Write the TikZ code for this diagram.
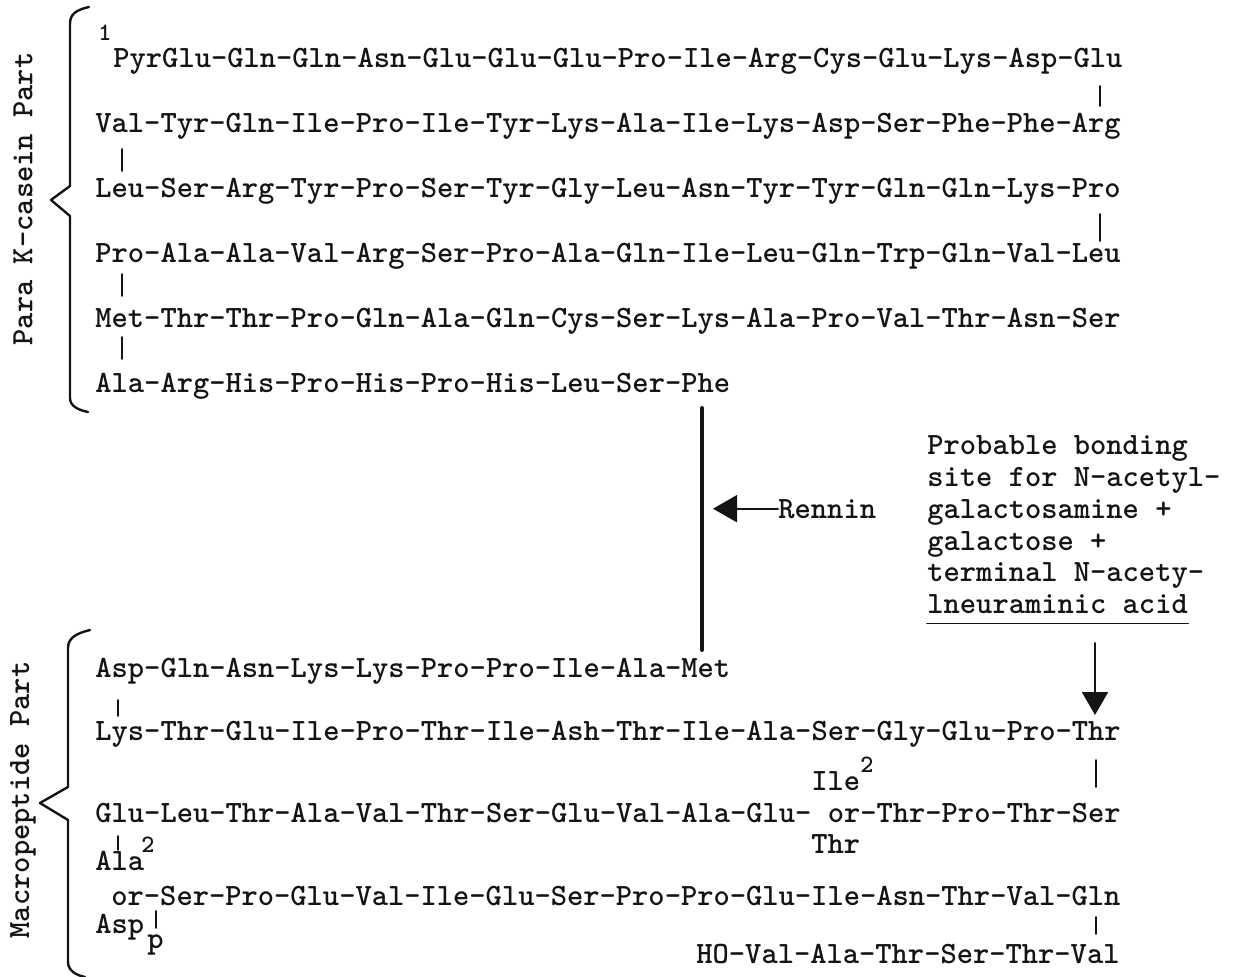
\documentclass[tikz,border=0pt]{standalone}
\usepackage{tikz}
\usetikzlibrary{arrows.meta,positioning}
\definecolor{ink}{RGB}{20,20,20}

\begin{document}
\begin{tikzpicture}[x=0.5pt, y=-0.5pt, line cap=round, line join=round,
    seq/.style={anchor=base west, inner sep=0pt, text=ink, font=\fontsize{15.5}{18}\selectfont\ttfamily\bfseries},
    supnum/.style={anchor=base west, inner sep=0pt, text=ink, font=\fontsize{12.5}{14}\selectfont\ttfamily\bfseries},
    side/.style={seq, anchor=center, rotate=90},
    bond/.style={draw=ink, line width=0.9pt},
    brace/.style={draw=ink, line width=1.2pt},
    cut/.style={draw=ink, line width=2pt},
    pointer/.style={draw=ink, line width=1pt, -{Triangle[length=12pt,width=13.5pt]}}]
    \useasboundingbox (0,0) rectangle (1240,977);

    % para kappa-casein part
    \node[supnum] (one) at (98,41) {1};
    \node[seq] (p1) at (113,68) {PyrGlu-Gln-Gln-Asn-Glu-Glu-Glu-Pro-Ile-Arg-Cys-Glu-Lys-Asp-Glu};
    \node[seq] (p2) at (95,133) {Val-Tyr-Gln-Ile-Pro-Ile-Tyr-Lys-Ala-Ile-Lys-Asp-Ser-Phe-Phe-Arg};
    \node[seq] (p3) at (95,198) {Leu-Ser-Arg-Tyr-Pro-Ser-Tyr-Gly-Leu-Asn-Tyr-Tyr-Gln-Gln-Lys-Pro};
    \node[seq] (p4) at (95,263) {Pro-Ala-Ala-Val-Arg-Ser-Pro-Ala-Gln-Ile-Leu-Gln-Trp-Gln-Val-Leu};
    \node[seq] (p5) at (95,328) {Met-Thr-Thr-Pro-Gln-Ala-Gln-Cys-Ser-Lys-Ala-Pro-Val-Thr-Asn-Ser};
    \node[seq] (p6) at (95,393) {Ala-Arg-His-Pro-His-Pro-His-Leu-Ser-Phe};
    \foreach \bx/\ya/\yb in {1100/86/106, 122/149/171, 1100/214/241, 122/274/296, 122/337/359}
        \draw[bond] (\bx,\ya) -- (\bx,\yb);
    \draw[brace] (89,7) .. controls (76,10) and (70,14) .. (70,24) -- (70,186) -- (51,200) -- (70,216)
        -- (70,398) .. controls (70,406) and (78,410) .. (88,412);
    \node[side] (para) at (23,199) {Para K-casein Part};

    % rennin cleavage
    \coordinate (cleave) at (702,408);
    \draw[cut] (cleave) -- (702,650);
    \node[seq] (rennin) at (778,518) {Rennin};
    \draw[pointer] (rennin.west) -- ++(-65,0);

    % carbohydrate site
    \foreach \t [count=\i] in {Probable bonding, site for N-acetyl-, galactosamine +, galactose +,
        terminal N-acety-, lneuraminic acid}
        \node[seq] (site\i) at (927,423.3+31.7*\i) {\t};
    \draw[bond] ([yshift=-5pt]site6.base west) -- ([yshift=-5pt]site6.base east);
    \coordinate (glyco) at (1095,643);
    \draw[pointer, -{Triangle[length=11.5pt,width=13pt]}] (glyco) -- (1095,715);

    % macropeptide part
    \node[seq] (m1) at (95,677) {Asp-Gln-Asn-Lys-Lys-Pro-Pro-Ile-Ala-Met};
    \node[seq] (m2) at (95,740) {Lys-Thr-Glu-Ile-Pro-Thr-Ile-Ash-Thr-Ile-Ala-Ser-Gly-Glu-Pro-Thr};
    \node[seq] (m3) at (95,822) {Glu-Leu-Thr-Ala-Val-Thr-Ser-Glu-Val-Ala-Glu- or-Thr-Pro-Thr-Ser};
    \node[seq] (ile) at (811,790) {Ile};
    \node[supnum] at (860,772) {2};
    \node[seq] (thr) at (811,853) {Thr};
    \node[seq] (ala) at (95,870) {Ala};
    \node[supnum] at (141,852) {2};
    \node[seq] (m4) at (111,905) {or-Ser-Pro-Glu-Val-Ile-Glu-Ser-Pro-Pro-Glu-Ile-Asn-Thr-Val-Gln};
    \node[seq] (asp) at (95,933) {Asp};
    \node[seq] (phos) at (147,948) {p};
    \node[seq] (m5) at (696,963) {HO-Val-Ala-Thr-Ser-Thr-Val};
    \foreach \bx/\ya/\yb in {118/700/716, 118/836/850, 156/911/928, 1096/760/787, 1096/917/934}
        \draw[bond] (\bx,\ya) -- (\bx,\yb);
    \draw[brace] (90,630) .. controls (78,633) and (68,637) .. (68,648) -- (68,787) -- (40,803) -- (68,820)
        -- (68,962) .. controls (68,970) and (75,975) .. (85,977);
    \node[side] (macro) at (23,800) {Macropeptide Part};
\end{tikzpicture}
\end{document}
